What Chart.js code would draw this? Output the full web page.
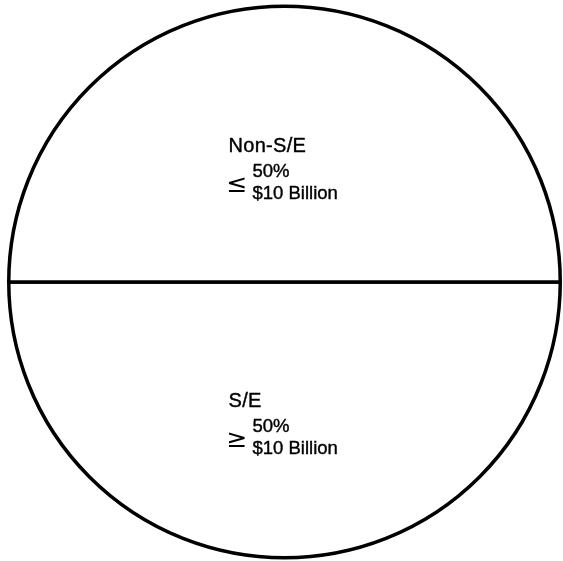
<!DOCTYPE html>
<html>
<head>
<meta charset="utf-8">
<script src="https://cdn.jsdelivr.net/npm/chart.js@4/dist/chart.umd.min.js"></script>
<style>
html,body{margin:0;padding:0;background:#fff;}
#wrap{width:563px;height:561px;}
</style>
</head>
<body>
<div id="wrap"><canvas id="c" width="563" height="561"></canvas></div>
<script>
const categories = ["S/E", "Non-S/E"];
const shares = [50, 50];
const relations = ["≥", "≤"];
const amounts = ["$10 Billion", "$10 Billion"];

const FONT = '"Liberation Sans", Arial, Helvetica, sans-serif';

const labelPlugin = {
  id: 'labels',
  afterDatasetsDraw(chart) {
    const ctx = chart.ctx;
    const arc = chart.getDatasetMeta(0).data[0];
    const cx = arc.x, cy = arc.y;
    const blocks = [
      { i: 1, dy: -130 },
      { i: 0, dy: 125 }
    ];
    ctx.save();
    ctx.fillStyle = '#000';
    ctx.strokeStyle = '#000';
    ctx.lineWidth = 0.4;
    ctx.textBaseline = 'alphabetic';
    ctx.textAlign = 'left';
    const put = (t, x, y) => { ctx.fillText(t, x, y); ctx.strokeText(t, x, y); };
    blocks.forEach(b => {
      const x0 = cx - 56;
      const y0 = cy + b.dy;
      ctx.font = '20px ' + FONT;
      ctx.letterSpacing = '0.3px';
      put(categories[b.i], x0, y0);
      ctx.letterSpacing = '0px';
      ctx.font = '18.5px ' + FONT;
      put(shares[b.i] + '%', x0 + 24, y0 + 25);
      put(amounts[b.i], x0 + 24, y0 + 47);
      ctx.font = '25px "DejaVu Sans", sans-serif';
      ctx.fillText(relations[b.i], x0 - 2, y0 + 40);
    });
    ctx.restore();
  }
};

new Chart(document.getElementById('c'), {
  type: 'pie',
  data: {
    labels: categories,
    datasets: [{
      data: shares,
      backgroundColor: '#ffffff',
      borderColor: '#000000',
      borderWidth: 3.5
    }]
  },
  options: {
    responsive: false,
    animation: false,
    rotation: 90,
    layout: { padding: { left: 7, right: 1, top: 4, bottom: 1 } },
    plugins: {
      legend: { display: false },
      tooltip: { enabled: false }
    }
  },
  plugins: [labelPlugin]
});
</script>
</body>
</html>
